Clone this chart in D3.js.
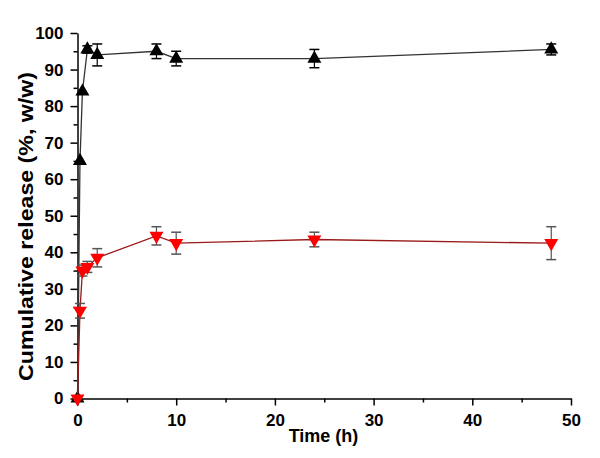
<!DOCTYPE html>
<html><head><meta charset="utf-8">
<script src="https://cdn.jsdelivr.net/npm/d3@7"></script>
<style>body{margin:0;background:#fff}</style>
</head><body>
<svg id="c" width="600" height="458"></svg>
<script>
const times = [0, 0.25, 0.5, 1, 2, 8, 10, 24, 48];
const blackVals = [0, 65, 84, 95.5, 94, 95, 93, 93, 95.5];
const blackErr  = [0, 0, 0, 1, 3, 2, 2, 2.5, 1.5];
const redVals   = [0, 24, 35, 36, 38.5, 44.5, 42.5, 43.5, 42.5];
const redErr    = [0, 2, 1.5, 1.5, 2.5, 2.5, 3, 2, 4.5];
const xTicks = [0, 10, 20, 30, 40, 50];
const yTicks = [0, 10, 20, 30, 40, 50, 60, 70, 80, 90, 100];

const svg = d3.select("#c");
const x = d3.scaleLinear().domain([0, 50]).range([77.5, 571]);
const y = d3.scaleLinear().domain([0, 100]).range([398.5, 33]);
const font = "'Liberation Sans', Arial, sans-serif";

// axes
svg.append("g").attr("transform", `translate(0,${y(0)})`)
  .call(d3.axisBottom(x).tickValues(xTicks).tickSize(7).tickPadding(8).tickSizeOuter(0));
svg.append("g").attr("transform", `translate(0,${y(0)})`)
  .call(d3.axisBottom(x).tickValues(d3.range(5, 50, 10)).tickSize(4).tickFormat("").tickSizeOuter(0))
  .select(".domain").remove();
svg.append("g").attr("transform", `translate(${x(0)},0)`)
  .call(d3.axisLeft(y).tickValues(yTicks).tickSize(7).tickPadding(7).tickSizeOuter(0));
svg.append("g").attr("transform", `translate(${x(0)},0)`)
  .call(d3.axisLeft(y).tickValues(d3.range(5, 100, 10)).tickSize(4).tickFormat("").tickSizeOuter(0))
  .select(".domain").remove();
svg.selectAll(".domain, .tick line").attr("stroke", "#000").attr("stroke-width", 1.5);
svg.selectAll(".tick text").attr("font-family", font).attr("font-weight", "bold")
  .attr("font-size", 17).attr("fill", "#000");

svg.append("text").attr("x", 323.5).attr("y", 442).attr("text-anchor", "middle")
  .attr("font-family", font).attr("font-weight", "bold").attr("font-size", 18).text("Time (h)");
svg.append("text").attr("transform", `translate(33,226.5) rotate(-90)`).attr("text-anchor", "middle")
  .attr("font-family", font).attr("font-weight", "bold").attr("font-size", 19.5)
  .attr("textLength", 309).attr("lengthAdjust", "spacingAndGlyphs")
  .text("Cumulative release (%, w/w)");

function series(vals, errs, lineColor, fill, errColor, rot) {
  const pts = times.map((t, i) => ({t, v: vals[i], e: errs[i]}));
  const line = d3.line().x(d => x(d.t)).y(d => y(d.v));
  svg.append("path").datum(pts).attr("d", line).attr("fill", "none")
    .attr("stroke", lineColor).attr("stroke-width", 1.3);
  const g = svg.append("g");
  pts.filter(d => d.e > 0).forEach(d => {
    const cx = x(d.t);
    g.append("line").attr("x1", cx).attr("x2", cx).attr("y1", y(d.v + d.e)).attr("y2", y(d.v - d.e))
      .attr("stroke", errColor).attr("stroke-width", 1.2);
    [d.v + d.e, d.v - d.e].forEach(v => g.append("line").attr("x1", cx - 5).attr("x2", cx + 5)
      .attr("y1", y(v)).attr("y2", y(v)).attr("stroke", errColor).attr("stroke-width", 1.5));
  });
  const sym = d3.symbol().type(d3.symbolTriangle).size(85);
  svg.append("g").selectAll("path").data(pts).join("path")
    .attr("d", sym).attr("fill", fill)
    .attr("transform", d => `translate(${x(d.t)},${y(d.v)}) rotate(${rot})`);
}
series(blackVals, blackErr, "#333", "#000", "#000", 0);
series(redVals, redErr, "#9a1a1a", "#f00", "#555", 180);
</script>
</body></html>
